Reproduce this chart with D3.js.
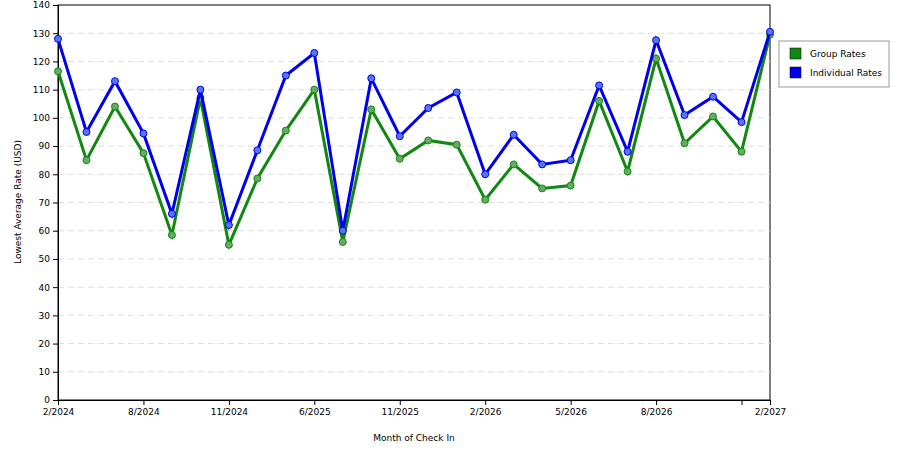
<!DOCTYPE html><html><head><meta charset="utf-8"><script src="https://cdn.jsdelivr.net/npm/d3@7"></script>
<style>body{margin:0;background:#fff}text{font-family:"DejaVu Sans",sans-serif}</style></head><body><svg id="c" width="900" height="450"></svg>
<script>
const categories=d3.range(26);
const tickLabels=["2/2024","","","8/2024","","","11/2024","","","6/2025","","","11/2025","","","2/2026","","","5/2026","","","8/2026","","","","2/2027"];
const tickShown=[0,3,6,9,12,15,18,21,24,25];
const groupRates=[116.5,85,104,87.5,58.5,107,55,78.5,95.5,110,56,103,85.5,92,90.5,71,83.5,75,76,106,81,121,91,100.5,88,129.5];
const individualRates=[128,95,113,94.5,66,110,62,88.5,115,123,60,114,93.5,103.5,109,80,94,83.5,85,111.5,88,127.5,101,107.5,98.5,130.5];
const svg=d3.select("#c");
const L=58,R=770,T=5,B=400;
const x=d3.scaleLinear().domain([0,25]).range([L,R]);
const y=d3.scaleLinear().domain([0,140]).range([B,T]);
svg.append("rect").attr("x",L).attr("y",T).attr("width",R-L).attr("height",B-T).attr("fill","#fff").attr("stroke","#000");
const yt=d3.range(0,141,10);
svg.append("g").selectAll("line").data(yt.filter(d=>d>0&&d<140)).join("line").attr("x1",L).attr("x2",R).attr("y1",d=>y(d)).attr("y2",d=>y(d)).attr("stroke","#ddd").attr("stroke-dasharray","6,4");
const ya=svg.append("g").attr("transform",`translate(${L},0)`).call(d3.axisLeft(y).tickValues(yt).tickSize(5).tickPadding(3));
const xa=svg.append("g").attr("transform",`translate(0,${B})`).call(d3.axisBottom(x).tickValues(tickShown).tickFormat(i=>tickLabels[i]).tickSize(5).tickPadding(4));
[ya,xa].forEach(a=>{a.selectAll("text").attr("font-size",9).attr("fill","#000");a.select(".domain").attr("stroke","#000");});
svg.append("text").attr("x",414).attr("y",441).attr("text-anchor","middle").attr("font-size",9).text("Month of Check In");
svg.append("text").attr("transform","translate(21,202) rotate(-90)").attr("text-anchor","middle").attr("font-size",9).text("Lowest Average Rate (USD)");
function series(data,col,dot){
  svg.append("path").datum(data).attr("fill","none").attr("stroke",col).attr("stroke-width",3).attr("d",d3.line().x((d,i)=>x(i)).y(d=>y(d)));
  svg.append("g").selectAll("circle").data(data).join("circle").attr("cx",(d,i)=>x(i)).attr("cy",d=>y(d)).attr("r",3.5).attr("fill",dot).attr("stroke",col).attr("stroke-width",1);
}
series(groupRates,"#118811","#66aa66");
series(individualRates,"#0000ee","#5577ee");
const lg=svg.append("g");
lg.append("rect").attr("x",779).attr("y",41).attr("width",110).attr("height",46).attr("fill","#fff").attr("stroke","#999");
[["Group Rates","#118811"],["Individual Rates","#0000ee"]].forEach((d,i)=>{
  lg.append("rect").attr("x",790).attr("y",48+i*19).attr("width",11).attr("height",11).attr("fill",d[1]).attr("stroke","#000").attr("stroke-width",0.5);
  lg.append("text").attr("x",810).attr("y",57+i*19).attr("font-size",9).text(d[0]);
});
</script></body></html>
